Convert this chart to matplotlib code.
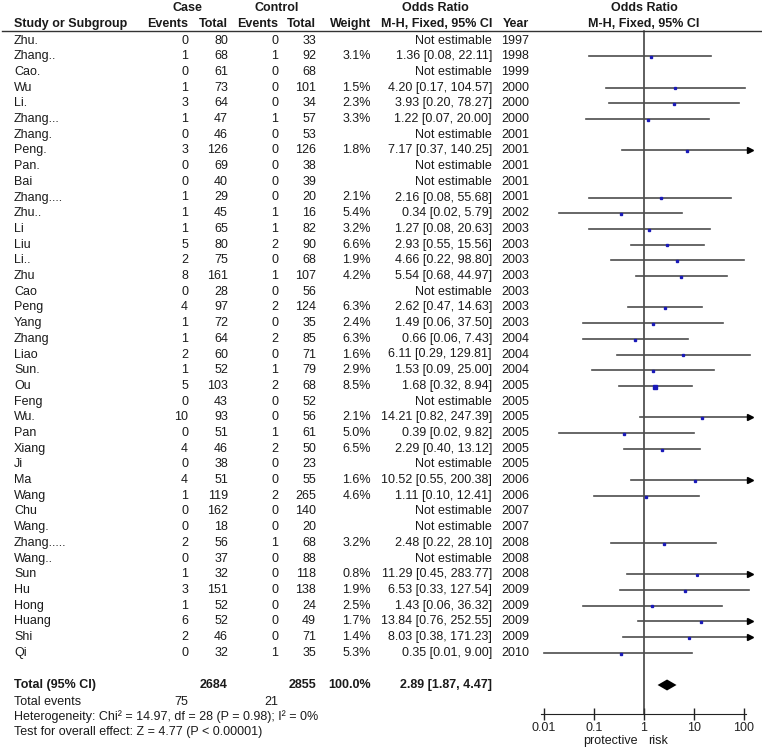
import matplotlib
matplotlib.use("Agg")
import matplotlib.pyplot as plt
import numpy as np

plt.rcParams['font.family'] = ['Liberation Sans', 'DejaVu Sans']

names = ["Zhu.", "Zhang..", "Cao.", "Wu", "Li.", "Zhang...", "Zhang.", "Peng.", "Pan.", "Bai",
         "Zhang....", "Zhu..", "Li", "Liu", "Li..", "Zhu", "Cao", "Peng", "Yang", "Zhang",
         "Liao", "Sun.", "Ou", "Feng", "Wu.", "Pan", "Xiang", "Ji", "Ma", "Wang",
         "Chu", "Wang.", "Zhang.....", "Wang..", "Sun", "Hu", "Hong", "Huang", "Shi", "Qi"]
case_events = [0, 1, 0, 1, 3, 1, 0, 3, 0, 0, 1, 1, 1, 5, 2, 8, 0, 4, 1, 1,
               2, 1, 5, 0, 10, 0, 4, 0, 4, 1, 0, 0, 2, 0, 1, 3, 1, 6, 2, 0]
case_total = [80, 68, 61, 73, 64, 47, 46, 126, 69, 40, 29, 45, 65, 80, 75, 161, 28, 97, 72, 64,
              60, 52, 103, 43, 93, 51, 46, 38, 51, 119, 162, 18, 56, 37, 32, 151, 52, 52, 46, 32]
ctrl_events = [0, 1, 0, 0, 0, 1, 0, 0, 0, 0, 0, 1, 1, 2, 0, 1, 0, 2, 0, 2,
               0, 1, 2, 0, 0, 1, 2, 0, 0, 2, 0, 0, 1, 0, 0, 0, 0, 0, 0, 1]
ctrl_total = [33, 92, 68, 101, 34, 57, 53, 126, 38, 39, 20, 16, 82, 90, 68, 107, 56, 124, 35, 85,
              71, 79, 68, 52, 56, 61, 50, 23, 55, 265, 140, 20, 68, 88, 118, 138, 24, 49, 71, 35]
weight = [None, 3.1, None, 1.5, 2.3, 3.3, None, 1.8, None, None, 2.1, 5.4, 3.2, 6.6, 1.9, 4.2, None, 6.3, 2.4, 6.3,
          1.6, 2.9, 8.5, None, 2.1, 5.0, 6.5, None, 1.6, 4.6, None, None, 3.2, None, 0.8, 1.9, 2.5, 1.7, 1.4, 5.3]
odds = [None, 1.36, None, 4.20, 3.93, 1.22, None, 7.17, None, None, 2.16, 0.34, 1.27, 2.93, 4.66, 5.54, None, 2.62, 1.49, 0.66,
        6.11, 1.53, 1.68, None, 14.21, 0.39, 2.29, None, 10.52, 1.11, None, None, 2.48, None, 11.29, 6.53, 1.43, 13.84, 8.03, 0.35]
ci_low = [None, 0.08, None, 0.17, 0.20, 0.07, None, 0.37, None, None, 0.08, 0.02, 0.08, 0.55, 0.22, 0.68, None, 0.47, 0.06, 0.06,
          0.29, 0.09, 0.32, None, 0.82, 0.02, 0.40, None, 0.55, 0.10, None, None, 0.22, None, 0.45, 0.33, 0.06, 0.76, 0.38, 0.01]
ci_high = [None, 22.11, None, 104.57, 78.27, 20.00, None, 140.25, None, None, 55.68, 5.79, 20.63, 15.56, 98.80, 44.97, None, 14.63, 37.50, 7.43,
           129.81, 25.00, 8.94, None, 247.39, 9.82, 13.12, None, 200.38, 12.41, None, None, 28.10, None, 283.77, 127.54, 36.32, 252.55, 171.23, 9.00]
years = [1997, 1998, 1999, 2000, 2000, 2000, 2001, 2001, 2001, 2001, 2001, 2002, 2003, 2003, 2003, 2003, 2003, 2003, 2003, 2004,
         2004, 2004, 2005, 2005, 2005, 2005, 2005, 2005, 2006, 2006, 2007, 2007, 2008, 2008, 2008, 2009, 2009, 2009, 2009, 2010]

pooled = (2.89, 1.87, 4.47)
total_case, total_ctrl = 2684, 2855
events_case, events_ctrl = 75, 21
ticks = [0.01, 0.1, 1, 10, 100]
tick_labels = ["0.01", "0.1", "1", "10", "100"]

W, H = 762, 751
fs = 9
txt = '#1a1a1a'

fig = plt.figure(figsize=(W / 100, H / 100), dpi=100)
ax = fig.add_axes([0, 0, 1, 1])
ax.set_xlim(0, W)
ax.set_ylim(H, 0)
ax.axis('off')

# posicoes das colunas (borda direita)
x_name = 14
x_ce, x_ct, x_ke, x_kt, x_w, x_or, x_yr = 188, 228, 278, 316, 371, 492, 529
y0, dy = 40.5, 15.7
rows = y0 + dy * np.arange(len(names))

# cabecalho
ax.text(187, 8, "Case", fontsize=fs, fontweight='bold', ha='center', va='center', color=txt)
ax.text(277, 8, "Control", fontsize=fs, fontweight='bold', ha='center', va='center', color=txt)
ax.text(435, 8, "Odds Ratio", fontsize=fs, fontweight='bold', ha='center', va='center', color=txt)
ax.text(644, 8, "Odds Ratio", fontsize=fs, fontweight='bold', ha='center', va='center', color=txt)
hdr = [(x_name, "Study or Subgroup", 'left'), (x_ce, "Events", 'right'), (x_ct, "Total", 'right'),
       (x_ke, "Events", 'right'), (x_kt, "Total", 'right'), (x_w, "Weight", 'right'),
       (x_or, "M-H, Fixed, 95% CI", 'right'), (x_yr, "Year", 'right'), (644, "M-H, Fixed, 95% CI", 'center')]
for x, s, ha in hdr:
    ax.text(x, 24, s, fontsize=fs, fontweight='bold', ha=ha, va='center', color=txt)
ax.plot([2, W], [31, 31], color='#333333', lw=1)

for i, y in enumerate(rows):
    ax.text(x_name, y, names[i], fontsize=fs, ha='left', va='center', color=txt)
    ax.text(x_ce, y, str(case_events[i]), fontsize=fs, ha='right', va='center', color=txt)
    ax.text(x_ct, y, str(case_total[i]), fontsize=fs, ha='right', va='center', color=txt)
    ax.text(x_ke, y, str(ctrl_events[i]), fontsize=fs, ha='right', va='center', color=txt)
    ax.text(x_kt, y, str(ctrl_total[i]), fontsize=fs, ha='right', va='center', color=txt)
    if weight[i] is not None:
        ax.text(x_w, y, f"{weight[i]:.1f}%", fontsize=fs, ha='right', va='center', color=txt)
        s = f"{odds[i]:.2f} [{ci_low[i]:.2f}, {ci_high[i]:.2f}]"
    else:
        s = "Not estimable"
    ax.text(x_or, y, s, fontsize=fs, ha='right', va='center', color=txt)
    ax.text(x_yr, y, str(years[i]), fontsize=fs, ha='right', va='center', color=txt)

# totais
y_tot = 685
ax.text(x_name, y_tot, "Total (95% CI)", fontsize=fs, fontweight='bold', ha='left', va='center', color=txt)
ax.text(x_ct, y_tot, str(total_case), fontsize=fs, fontweight='bold', ha='right', va='center', color=txt)
ax.text(x_kt, y_tot, str(total_ctrl), fontsize=fs, fontweight='bold', ha='right', va='center', color=txt)
ax.text(x_w, y_tot, "100.0%", fontsize=fs, fontweight='bold', ha='right', va='center', color=txt)
ax.text(x_or, y_tot, f"{pooled[0]:.2f} [{pooled[1]:.2f}, {pooled[2]:.2f}]", fontsize=fs,
        fontweight='bold', ha='right', va='center', color=txt)
ax.text(x_name, 702, "Total events", fontsize=fs, ha='left', va='center', color=txt)
ax.text(x_ce, 702, str(events_case), fontsize=fs, ha='right', va='center', color=txt)
ax.text(x_ke, 702, str(events_ctrl), fontsize=fs, ha='right', va='center', color=txt)
ax.text(x_name, 717, "Heterogeneity: Chi² = 14.97, df = 28 (P = 0.98); I² = 0%", fontsize=fs,
        ha='left', va='center', color=txt)
ax.text(x_name, 732, "Test for overall effect: Z = 4.77 (P < 0.00001)", fontsize=fs,
        ha='left', va='center', color=txt)
ax.text(638, 741, "protective", fontsize=fs, ha='right', va='center', color=txt)
ax.text(648, 741, "risk", fontsize=fs, ha='left', va='center', color=txt)

# forest plot (escala log)
left_px, right_px = 539, 754
fx = fig.add_axes([left_px / W, 0, (right_px - left_px) / W, 1])
fx.set_xscale('log')
fx.set_xlim(10 ** -2.1, 10 ** 2.2)
fx.set_ylim(H, 0)
fx.patch.set_alpha(0)
for sp in ['top', 'left', 'right']:
    fx.spines[sp].set_visible(False)
y_axis = 714
fx.spines['bottom'].set_position(('data', y_axis))
fx.spines['bottom'].set_bounds(10 ** -2.06, 10 ** 2.04)
fx.spines['bottom'].set_color('#222222')
fx.set_xticks(ticks)
fx.set_xticklabels(tick_labels)
fx.xaxis.set_minor_locator(matplotlib.ticker.NullLocator())
fx.tick_params(axis='x', direction='inout', length=8, width=1, pad=2, labelsize=fs, colors='#222222')
fx.set_yticks([])

fx.plot([1, 1], [31, y_axis], color='#333333', lw=1.1)

clip_hi = 130
for i, y in enumerate(rows):
    if odds[i] is None:
        continue
    hi = min(ci_high[i], clip_hi)
    fx.plot([ci_low[i], hi], [y, y], color='#4d4d4d', lw=1.2)
    if ci_high[i] > clip_hi:
        fx.plot(hi, y, marker='>', ms=4.5, color='black', mec='black', lw=0)
    fx.plot(odds[i], y + 0.8, marker='s', ms=1.2 + 0.13 * weight[i], color='#1a1ab8', mec='#1a1ab8', lw=0)

fx.fill([pooled[1], pooled[0], pooled[2], pooled[0]], [y_tot, y_tot - 5.5, y_tot, y_tot + 5.5],
        color='black', lw=0)

fig.savefig("out.png", dpi=100)
